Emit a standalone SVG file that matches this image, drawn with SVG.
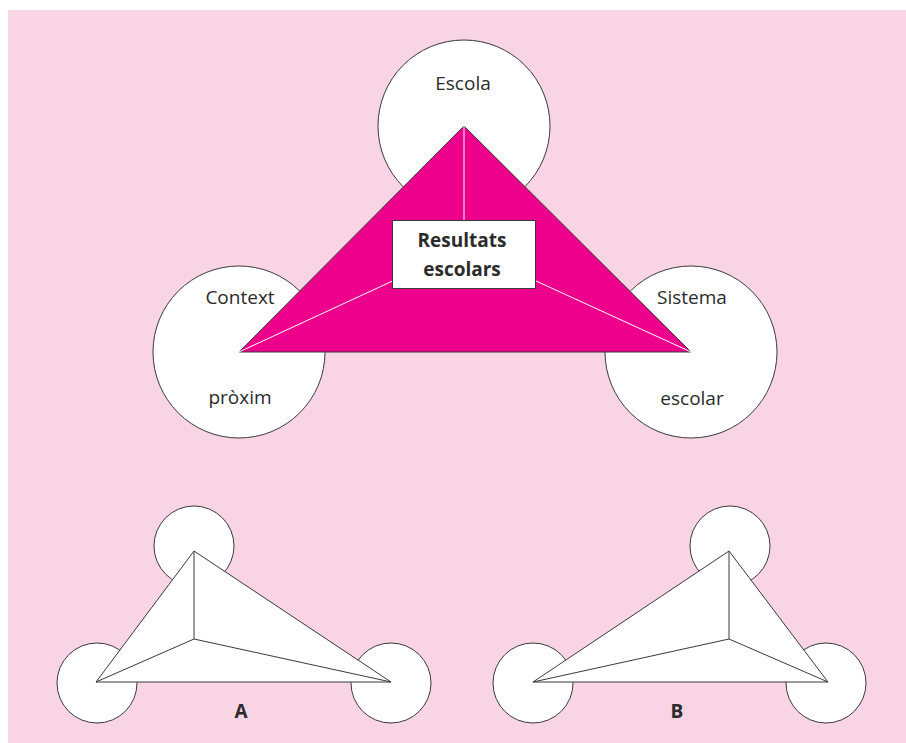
<svg xmlns="http://www.w3.org/2000/svg" width="906" height="743" viewBox="0 0 906 743">
  <style>
    .node { fill: #ffffff; stroke: #3a3a3a; stroke-width: 1; }
    .face { fill: #ec008c; stroke: #3a3a3a; stroke-width: 1; stroke-linejoin: miter; }
    .rib { stroke: #ffffff; stroke-width: 1; fill: none; }
    .wire { fill: #ffffff; stroke: #3a3a3a; stroke-width: 1; stroke-linejoin: miter; }
    .edge { stroke: #3a3a3a; stroke-width: 1; fill: none; }
    .lbl { font-family: "Open Sans", "Noto Sans", "Liberation Sans", sans-serif; font-size: 19px; fill: #2b2b2b; text-anchor: middle; }
    .bold { font-family: "Open Sans", "Noto Sans", "Liberation Sans", sans-serif; font-size: 19px; font-weight: bold; fill: #2b2b2b; text-anchor: middle; }
  </style>

  <rect x="8" y="10" width="898" height="733" fill="#f9d4e4"/>

  <!-- main model: three circles around a magenta pyramid -->
  <g id="escola">
    <circle class="node" cx="464" cy="126" r="86"/>
    <text class="lbl" x="463" y="90">Escola</text>
  </g>
  <g id="context-proxim">
    <circle class="node" cx="239" cy="352" r="86"/>
    <text class="lbl" x="240" y="304">Context</text>
    <text class="lbl" x="240" y="404">pròxim</text>
  </g>
  <g id="sistema-escolar">
    <circle class="node" cx="691" cy="352" r="86"/>
    <text class="lbl" x="692" y="304">Sistema</text>
    <text class="lbl" x="692" y="405">escolar</text>
  </g>

  <g id="connectors">
    <polygon class="face" points="464,126 239,352 691,352"/>
    <line class="rib" x1="464" y1="126" x2="464" y2="248"/>
    <line class="rib" x1="239" y1="352" x2="464" y2="248"/>
    <line class="rib" x1="691" y1="352" x2="464" y2="248"/>
  </g>

  <g id="resultats-escolars">
    <rect class="node" x="392.5" y="220.5" width="143" height="68"/>
    <text class="bold" x="462" y="247">Resultats</text>
    <text class="bold" x="462" y="276">escolars</text>
  </g>

  <!-- variant A -->
  <g id="variant-a">
    <circle class="node" cx="194" cy="546" r="40"/>
    <circle class="node" cx="97" cy="683" r="40"/>
    <circle class="node" cx="391" cy="683" r="40"/>
    <polygon class="wire" points="194,551 96,682 391,682"/>
    <line class="edge" x1="194" y1="551" x2="194" y2="639"/>
    <line class="edge" x1="96" y1="682" x2="194" y2="639"/>
    <line class="edge" x1="391" y1="682" x2="194" y2="639"/>
    <text class="bold" x="241" y="718">A</text>
  </g>

  <!-- variant B -->
  <g id="variant-b">
    <circle class="node" cx="730" cy="546" r="40"/>
    <circle class="node" cx="533" cy="683" r="40"/>
    <circle class="node" cx="826" cy="683" r="40"/>
    <polygon class="wire" points="729,551 533,682 828,682"/>
    <line class="edge" x1="729" y1="551" x2="729" y2="639"/>
    <line class="edge" x1="533" y1="682" x2="729" y2="639"/>
    <line class="edge" x1="828" y1="682" x2="729" y2="639"/>
    <text class="bold" x="677" y="718">B</text>
  </g>
</svg>
